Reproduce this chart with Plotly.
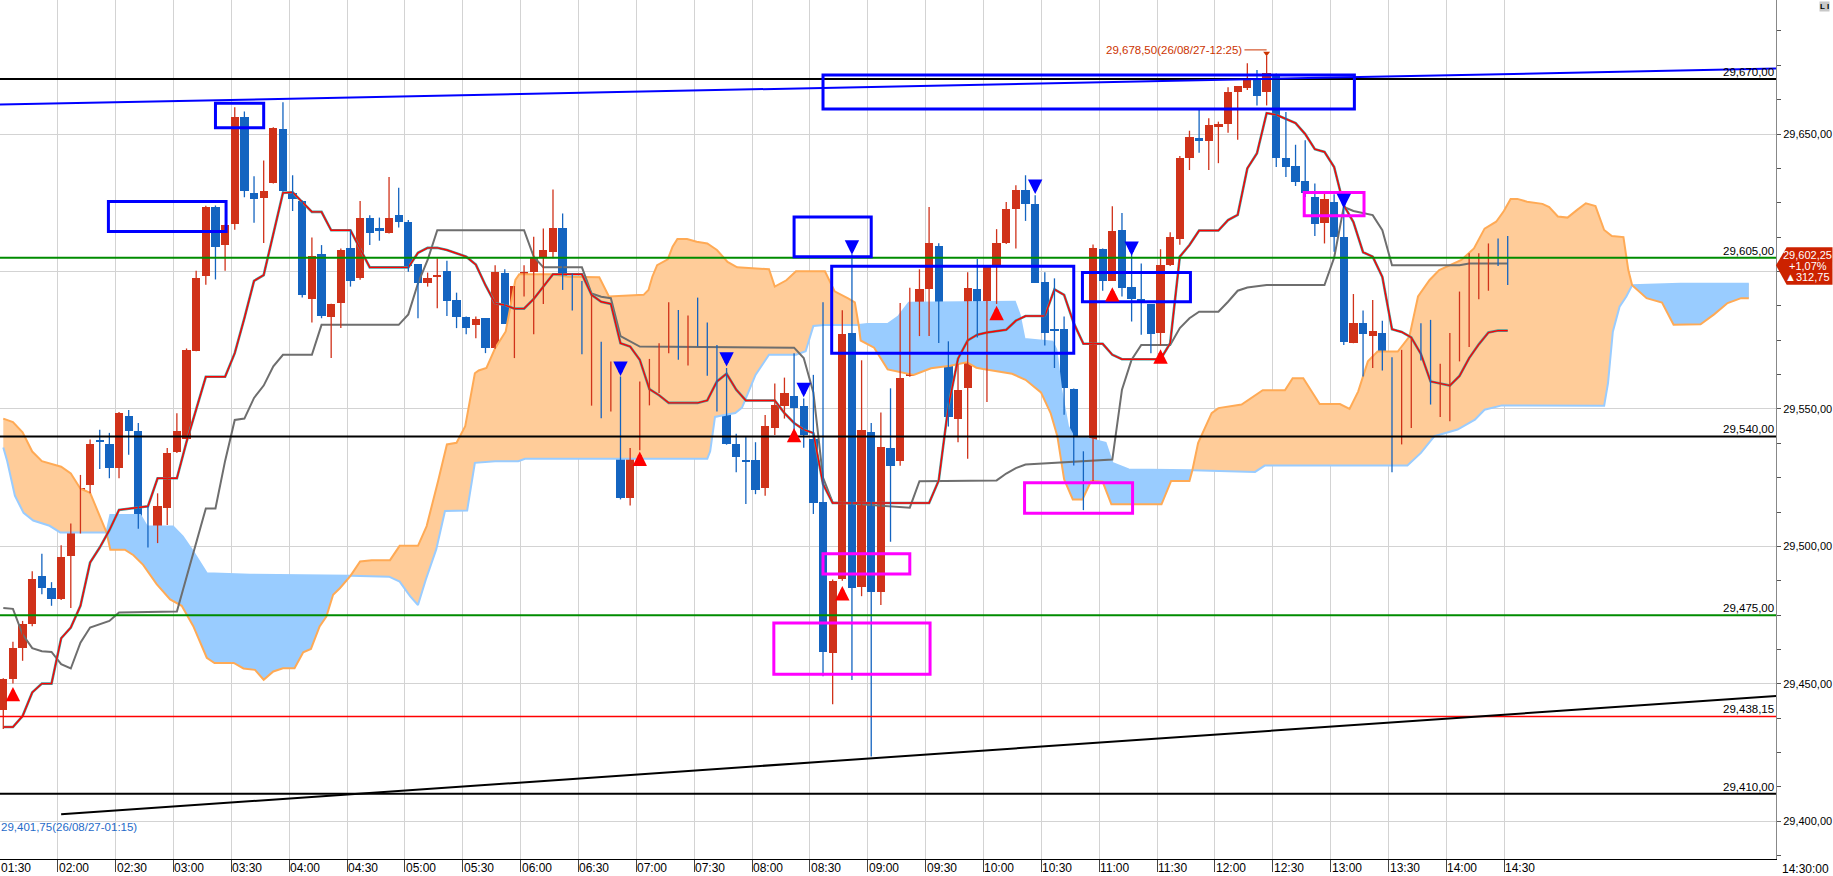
import plotly.graph_objects as go

# 5-minute bars, index 0 = 01:30 ... index 156 = 14:30
opens = [29440.6, 29451.7, 29463.1, 29471.6, 29489.4, 29484.7, 29480.8, 29496.5, 29508.3, 29522.4,
         29538.2, 29537.1, 29528.4, 29547.3, 29541.8, 29506.0, 29505.9, 29514.1, 29534.2, 29538.9,
         29571.2, 29598.4, 29623.6, 29609.7, 29617.1, 29656.1, 29628.7, 29626.8, 29632.2, 29651.9,
         29628.7, 29625.6, 29590.1, 29606.2, 29583.6, 29588.7, 29608.4, 29597.5, 29619.6, 29616.0,
         29614.1, 29620.7, 29618.1, 29602.6, 29595.7, 29597.9, 29600.2, 29589.6, 29583.6, 29580.6,
         29583.0, 29572.1, 29599.6, 29581.2, 29595.4, 29599.9, 29605.1, 29607.2, 29616.0, 29594.8,
         29592.9, 29569.9, 29571.5, 29550.6, 29561.5, 29517.5, 29535.0, 29557.2, 29564.3, 29573.6,
         29583.8, 29579.0, 29584.2, 29579.1, 29567.9, 29555.5, 29537.1, 29531.2, 29531.3, 29521.1,
         29542.9, 29550.9, 29554.7, 29550.9, 29539.2, 29516.3, 29461.1, 29488.2, 29577.6, 29485.1,
         29541.6, 29483.6, 29535.9, 29531.0, 29562.1, 29578.3, 29593.7, 29609.4, 29574.6, 29546.5,
         29557.5, 29593.5, 29579.1, 29602.3, 29610.2, 29622.9, 29629.5, 29624.7, 29596.1, 29578.6,
         29579.1, 29557.4, 29532.2, 29523.8, 29608.1, 29596.7, 29615.0, 29594.5, 29590.0, 29588.2,
         29577.8, 29602.4, 29611.7, 29641.2, 29648.4, 29647.6, 29652.7, 29653.5, 29665.2, 29666.7,
         29669.7, 29665.2, 29671.9, 29641.4, 29638.2, 29632.8, 29627.1, 29617.5, 29625.3, 29612.6,
         29573.9, 29581.4, 29576.7, 29577.6, 29568.8, 29539.1, 29549.1, 29575.5, 29572.1, 29552.2,
         29555.2, 29573.0, 29589.0, 29591.5, 29594.5, 29605.6, 29603.9]
highs = [29452.0, 29465.3, 29472.9, 29491.0, 29497.3, 29487.0, 29500.4, 29508.3, 29526.0, 29538.9,
         29542.4, 29541.3, 29548.9, 29549.6, 29544.9, 29514.6, 29519.3, 29535.8, 29548.4, 29572.0,
         29600.3, 29623.9, 29624.0, 29617.0, 29659.7, 29658.2, 29634.6, 29640.4, 29652.5, 29661.6,
         29635.0, 29625.8, 29612.4, 29609.6, 29588.3, 29608.4, 29615.0, 29625.6, 29620.5, 29619.6,
         29634.4, 29630.5, 29618.7, 29602.6, 29599.6, 29604.8, 29603.9, 29592.3, 29583.6, 29583.6,
         29583.0, 29602.3, 29600.8, 29594.7, 29602.3, 29612.6, 29615.6, 29629.8, 29621.1, 29599.3,
         29596.5, 29591.5, 29574.4, 29567.3, 29561.8, 29535.8, 29560.0, 29568.2, 29573.9, 29588.8,
         29586.0, 29584.0, 29590.5, 29581.4, 29573.3, 29564.9, 29541.0, 29539.9, 29537.9, 29547.8,
         29559.3, 29561.4, 29570.3, 29553.8, 29562.4, 29588.8, 29488.0, 29585.9, 29606.3, 29567.7,
         29544.9, 29548.7, 29557.5, 29588.5, 29594.1, 29600.8, 29623.5, 29610.3, 29574.6, 29566.3,
         29599.7, 29604.5, 29602.3, 29615.4, 29625.3, 29631.4, 29635.0, 29627.7, 29599.7, 29597.5,
         29583.6, 29557.4, 29534.6, 29609.8, 29608.4, 29623.7, 29621.3, 29608.1, 29602.9, 29588.2,
         29608.1, 29614.3, 29642.0, 29651.2, 29659.1, 29655.7, 29654.5, 29667.0, 29667.3, 29675.7,
         29673.3, 29678.5, 29672.0, 29658.0, 29646.1, 29647.7, 29632.0, 29628.9, 29628.1, 29623.5,
         29591.8, 29585.8, 29589.6, 29582.1, 29568.8, 29571.5, 29575.7, 29581.2, 29582.4, 29566.4,
         29577.6, 29592.7, 29606.6, 29606.6, 29610.2, 29612.0, 29612.9]
lows = [29433.6, 29450.1, 29458.4, 29471.0, 29482.6, 29478.4, 29480.5, 29477.6, 29504.7, 29519.3,
        29528.2, 29524.8, 29524.8, 29533.3, 29506.4, 29499.6, 29501.2, 29507.8, 29534.0, 29538.9,
        29571.0, 29595.2, 29597.1, 29600.3, 29615.2, 29627.0, 29617.7, 29610.4, 29632.0, 29629.0,
        29622.0, 29590.5, 29581.4, 29583.0, 29568.5, 29579.4, 29594.5, 29597.0, 29609.6, 29611.2,
        29613.8, 29616.0, 29599.9, 29583.0, 29594.5, 29586.6, 29583.8, 29579.4, 29577.2, 29575.7,
        29570.3, 29571.9, 29580.9, 29568.5, 29590.9, 29577.2, 29588.2, 29604.8, 29593.3, 29585.8,
        29569.9, 29551.2, 29546.6, 29549.1, 29517.1, 29514.9, 29535.0, 29551.3, 29555.8, 29570.3,
        29567.9, 29565.8, 29572.7, 29562.1, 29549.1, 29537.0, 29527.0, 29515.4, 29519.0, 29518.4,
        29540.5, 29546.5, 29541.2, 29535.9, 29511.8, 29452.8, 29442.6, 29487.5, 29451.4, 29481.9,
        29423.6, 29478.7, 29501.7, 29529.3, 29561.7, 29576.5, 29576.5, 29574.0, 29543.6, 29537.9,
        29531.9, 29576.0, 29552.5, 29588.2, 29610.0, 29608.4, 29618.4, 29595.9, 29573.1, 29564.9,
        29547.9, 29529.4, 29513.2, 29523.8, 29593.0, 29596.7, 29590.9, 29581.8, 29577.0, 29570.3,
        29573.1, 29602.0, 29609.7, 29636.9, 29643.2, 29636.9, 29639.4, 29650.5, 29647.9, 29666.0,
        29660.4, 29660.4, 29638.0, 29634.4, 29631.1, 29627.1, 29612.9, 29610.2, 29607.2, 29573.3,
        29573.9, 29561.8, 29564.9, 29564.0, 29527.0, 29537.1, 29543.1, 29567.6, 29551.6, 29547.1,
        29545.5, 29567.3, 29572.5, 29589.9, 29593.0, 29602.0, 29595.1]
closes = [29451.7, 29463.1, 29471.6, 29488.3, 29484.7, 29480.8, 29496.2, 29508.3, 29521.2, 29537.1,
          29538.0, 29528.7, 29548.4, 29541.8, 29506.7, 29506.0, 29514.6, 29533.9, 29541.8, 29571.5,
          29597.5, 29623.4, 29608.9, 29616.8, 29656.1, 29629.4, 29626.2, 29629.3, 29652.3, 29629.3,
          29626.2, 29591.5, 29605.6, 29583.8, 29588.2, 29607.8, 29596.7, 29619.3, 29614.1, 29614.8,
          29619.6, 29618.1, 29602.1, 29595.9, 29597.7, 29598.7, 29589.4, 29583.4, 29579.6, 29582.6,
          29572.1, 29599.9, 29580.9, 29594.7, 29599.9, 29604.8, 29607.8, 29616.0, 29594.2, 29592.1,
          29569.9, 29571.8, 29551.0, 29563.7, 29517.5, 29533.8, 29558.8, 29562.8, 29573.3, 29585.7,
          29578.5, 29583.8, 29579.0, 29567.9, 29557.4, 29537.1, 29532.6, 29530.8, 29520.4, 29543.8,
          29551.4, 29555.8, 29550.2, 29540.5, 29515.8, 29461.5, 29487.6, 29577.2, 29484.8, 29542.5,
          29483.6, 29536.3, 29529.3, 29561.4, 29578.9, 29593.7, 29610.3, 29574.3, 29546.9, 29556.8,
          29593.9, 29578.5, 29602.3, 29610.2, 29622.9, 29629.5, 29624.7, 29595.9, 29577.8, 29578.2,
          29557.8, 29532.5, 29523.8, 29608.6, 29596.7, 29614.7, 29593.9, 29590.0, 29588.6, 29577.2,
          29602.3, 29612.4, 29641.2, 29648.8, 29647.6, 29653.3, 29653.7, 29665.3, 29667.3, 29669.7,
          29664.0, 29672.2, 29641.4, 29638.0, 29632.6, 29628.6, 29617.1, 29626.2, 29612.6, 29574.2,
          29581.4, 29577.3, 29578.2, 29568.5, 29539.8, 29549.7, 29575.7, 29571.8, 29552.2, 29554.8,
          29572.1, 29589.6, 29592.3, 29594.5, 29606.3, 29603.2, 29602.25]

time_labels = ["01:30", "02:00", "02:30", "03:00", "03:30", "04:00", "04:30", "05:00", "05:30",
               "06:00", "06:30", "07:00", "07:30", "08:00", "08:30", "09:00", "09:30", "10:00",
               "10:30", "11:00", "11:30", "12:00", "12:30", "13:00", "13:30", "14:00", "14:30"]

# conversion line (vertices: bar, value)
tenkan_x = [0, 1, 2, 3, 4, 5, 6, 7, 8, 9, 10, 11, 12, 14, 15, 16, 18, 19, 20, 21, 23, 24, 25, 26, 27, 28,
            29, 30, 31, 32, 33, 34, 36, 37, 38, 42, 43, 44, 45, 46, 47, 48, 49, 50, 51, 52, 53, 54, 55,
            56, 57, 60, 61, 62, 63, 64, 65, 66, 67, 68, 69, 72, 73, 74, 75, 76, 77, 80, 81, 82, 83, 84,
            85, 86, 96, 97, 98, 99, 100, 101, 102, 104, 105, 106, 108, 109, 110, 111, 112, 114, 115,
            116, 120, 121, 122, 123, 124, 126, 127, 128, 129, 130, 131, 132, 133, 134, 135, 136, 137,
            138, 139, 140, 141, 142, 143, 144, 145, 146, 147, 148, 150, 151, 152, 153, 154, 155, 156]
tenkan_y = [29434.3, 29434.3, 29438.3, 29446.9, 29450.1, 29450.1, 29466.6, 29470.5, 29478.4, 29494.1,
            29499.6, 29505.9, 29513.3, 29514.1, 29514.6, 29524.8, 29524.8, 29538.0, 29550.0, 29561.7,
            29561.7, 29570.3, 29583.0, 29596.6, 29598.7, 29614.0, 29628.6, 29628.8, 29625.3, 29621.7,
            29621.7, 29615.0, 29615.0, 29608.0, 29601.5, 29601.5, 29606.8, 29608.6, 29608.6, 29607.8,
            29606.6, 29605.4, 29602.5, 29595.0, 29588.4, 29587.8, 29586.5, 29586.5, 29590.0, 29594.5,
            29599.0, 29599.0, 29591.5, 29589.0, 29588.2, 29573.9, 29572.7, 29567.9, 29557.2, 29555.0,
            29552.2, 29552.2, 29553.1, 29560.0, 29562.8, 29557.0, 29553.1, 29553.1, 29548.5, 29544.9,
            29542.5, 29541.2, 29522.7, 29515.8, 29515.8, 29524.0, 29551.0, 29568.3, 29574.9, 29577.0,
            29577.8, 29578.8, 29582.1, 29583.8, 29583.8, 29593.5, 29591.5, 29581.2, 29573.7, 29573.7,
            29569.7, 29568.1, 29568.1, 29573.9, 29605.4, 29609.6, 29614.9, 29614.9, 29618.7, 29620.6,
            29637.5, 29643.0, 29657.6, 29657.0, 29655.5, 29654.0, 29650.0, 29644.5, 29643.5, 29638.0,
            29624.1, 29618.0, 29607.0, 29605.4, 29598.0, 29579.0, 29578.0, 29576.0, 29570.0, 29560.0,
            29558.5, 29562.0, 29568.5, 29573.5, 29577.8, 29578.5, 29578.5]

# base line (vertices: bar, value)
kijun_x = [0, 1, 2, 3, 4, 5, 6, 7, 8, 9, 11, 12, 18, 19, 20, 21, 22, 23, 24, 25, 26, 27, 28, 29, 32, 33,
           41, 42, 43, 44, 45, 54, 55, 56, 60, 61, 62, 63, 64, 65, 66, 82, 83, 84, 85, 86, 94, 95, 103,
           104, 105, 106, 115, 116, 117, 118, 121, 122, 123, 124, 126, 127, 128, 129, 130, 131, 137,
           138, 139, 140, 142, 143, 144, 151, 152, 156]
kijun_y = [29477.6, 29477.3, 29468.0, 29463.0, 29461.9, 29461.6, 29457.2, 29455.6, 29465.0, 29470.5,
           29472.9, 29476.0, 29476.3, 29488.6, 29501.2, 29513.8, 29513.8, 29531.1, 29546.0, 29546.5,
           29554.0, 29558.5, 29565.5, 29569.7, 29569.7, 29580.6, 29580.6, 29584.4, 29595.7, 29604.2,
           29615.0, 29615.0, 29605.4, 29601.5, 29601.5, 29592.0, 29590.8, 29590.3, 29576.5, 29574.5,
           29572.7, 29572.3, 29568.5, 29556.0, 29525.0, 29516.0, 29514.1, 29523.7, 29524.0, 29526.5,
           29528.5, 29529.8, 29531.6, 29557.0, 29567.9, 29573.3, 29573.3, 29579.4, 29583.0, 29585.4,
           29585.4, 29589.0, 29593.0, 29594.2, 29594.7, 29595.1, 29595.1, 29605.0, 29623.5, 29622.0,
           29620.5, 29615.0, 29602.3, 29602.3, 29602.9, 29602.9]

# leading span drawn in orange
span_a_x = [0, 1, 2, 3, 4, 6, 7, 8, 9, 10, 10.7, 11.1, 12.6, 13.5, 14.5, 15.9, 17.3, 18.5, 19.7, 21.1,
            21.9, 23.9, 24.9, 26.1, 27.0, 28.0, 29.0, 30.2, 31.1, 31.9, 32.8, 33.5, 34.2, 34.9, 36.0,
            37.0, 38.2, 40.1, 41.1, 43.0, 43.9, 45.1, 46.0, 47.0, 47.9, 48.9, 49.3, 50.1, 51.0, 52.1,
            53.1, 53.5, 56.9, 58.5, 61.8, 62.8, 66.4, 66.9, 67.3, 67.8, 68.9, 69.4, 69.9, 70.9, 71.9,
            73.0, 74.0, 75.1, 76.1, 79.4, 80.0, 81.2, 82.2, 85.2, 86.2, 87.6, 88.3, 88.7, 88.9, 90.3,
            91.7, 94.4, 96.2, 98.2, 99.9, 100.9, 101.6, 104.6, 106.0, 107.6, 108.6, 109.3, 110.0,
            110.9, 111.9, 112.8, 114.0, 114.9, 120.1, 121.1, 123.0, 123.3, 123.9, 125.3, 126.0, 128.4,
            130.6, 132.9, 133.7, 134.8, 136.5, 138.6, 139.6, 140.5, 141.5, 142.5, 144.6, 145.8, 146.7,
            147.9, 148.9, 151.2, 152.5, 153.6, 154.8, 155.6, 156.3, 157.0, 158.0, 159.6, 160.3, 161.2,
            162.2, 163.2, 164.1, 165.1, 166.0, 166.8, 168.0, 168.5, 168.9, 170.4, 172.0, 173.2, 176.0,
            177.4, 178.8, 180.2, 181.0]
span_a_y = [29546.5, 29545.2, 29541.5, 29534.5, 29531.0, 29529.0, 29526.5, 29521.0, 29519.5, 29511.4,
            29505.1, 29498.8, 29498.8, 29496.8, 29493.3, 29486.3, 29480.7, 29478.4, 29471.0, 29459.5,
            29457.6, 29457.6, 29455.6, 29455.1, 29451.5, 29454.5, 29455.7, 29455.7, 29461.5, 29462.7,
            29470.9, 29474.5, 29482.4, 29484.8, 29489.3, 29494.5, 29495.0, 29495.0, 29500.2, 29500.2,
            29507.4, 29524.0, 29537.1, 29537.7, 29543.7, 29563.0, 29564.0, 29564.9, 29572.1, 29578.2,
            29596.9, 29599.0, 29599.0, 29598.1, 29597.9, 29590.9, 29591.5, 29593.3, 29598.1, 29602.3,
            29604.4, 29609.0, 29611.8, 29611.8, 29610.8, 29610.2, 29607.8, 29603.5, 29601.5, 29600.8,
            29594.5, 29596.8, 29600.1, 29600.1, 29592.8, 29590.2, 29588.8, 29580.5, 29574.9, 29572.3,
            29564.4, 29562.4, 29564.8, 29565.7, 29567.0, 29565.0, 29564.5, 29562.8, 29560.6, 29556.0,
            29548.5, 29540.1, 29524.4, 29517.1, 29517.1, 29523.8, 29523.5, 29515.3, 29515.3, 29523.8,
            29523.8, 29527.7, 29537.7, 29548.5, 29550.3, 29551.6, 29556.8, 29556.8, 29561.2, 29561.2,
            29551.8, 29551.8, 29550.0, 29556.4, 29567.3, 29570.9, 29570.9, 29576.3, 29590.9, 29596.9,
            29600.5, 29604.2, 29608.4, 29615.6, 29618.1, 29622.0, 29626.4, 29626.4, 29625.4, 29624.6,
            29623.4, 29620.0, 29619.6, 29622.4, 29624.8, 29623.8, 29615.1, 29612.9, 29612.5, 29600.6,
            29595.0, 29590.3, 29588.7, 29580.6, 29580.8, 29584.4, 29588.5, 29590.3, 29590.3]

# leading span drawn in light blue
span_b_x = [0, 0.4, 1.2, 2.1, 3.1, 4.8, 5.9, 10.7, 11.1, 14.2, 14.9, 17.6, 18.6, 19.7, 21.1, 25.6,
            36.0, 40.0, 41.1, 42.2, 43.0, 43.8, 44.9, 45.8, 48.1, 48.9, 51.0, 53.4, 54.1, 73.0, 73.3,
            73.8, 74.5, 75.9, 76.6, 78.0, 79.4, 82.2, 83.2, 84.0, 85.1, 88.7, 89.6, 91.7, 92.8, 93.9,
            104.9, 105.4, 105.9, 108.8, 109.2, 109.7, 110.4, 111.0, 112.2, 114.3, 115.0, 116.7, 123.3,
            129.8, 130.8, 145.6, 147.0, 148.4, 150.8, 152.6, 153.6, 155.4, 166.0, 166.4, 166.9, 167.6,
            168.3, 168.9, 173.9, 181.0]
span_b_y = [29536.0, 29531.1, 29518.5, 29512.2, 29509.4, 29507.5, 29505.1, 29505.1, 29511.4, 29511.4,
            29507.2, 29507.2, 29503.6, 29498.0, 29490.2, 29489.7, 29489.3, 29489.0, 29487.2, 29481.8,
            29478.7, 29487.8, 29499.0, 29512.9, 29513.1, 29530.4, 29531.0, 29531.0, 29531.9, 29531.9,
            29534.6, 29547.1, 29547.6, 29548.5, 29550.5, 29562.4, 29569.7, 29569.7, 29571.0, 29580.2,
            29580.5, 29580.5, 29580.9, 29580.9, 29583.6, 29588.6, 29589.0, 29584.2, 29575.4, 29574.5,
            29571.5, 29557.0, 29543.7, 29539.8, 29539.5, 29537.7, 29530.4, 29528.0, 29527.7, 29527.1,
            29529.4, 29529.4, 29534.0, 29540.1, 29542.5, 29546.1, 29549.7, 29551.3, 29551.2, 29559.4,
            29578.1, 29587.2, 29590.9, 29595.0, 29595.5, 29595.5]

# stretches where the blue span lies above the orange one
blue_cloud = [(10.7, 36.0), (88.7, 123.3), (168.9, 181.0)]

# horizontal levels
levels = [29670.0, 29605.0, 29540.0, 29475.0, 29438.15, 29410.0]
level_colors = ["#000000", "#008C00", "#000000", "#008C00", "#FF0000", "#000000"]

# trend lines: (bar0, price0, bar1, price1)
trend_lines = [(-0.342, 29660.7, 183.82, 29673.8, "#0000FF"),
               (6.0, 29402.6, 183.82, 29445.6, "#000000")]

# marked boxes: (bar0, bar1, price_low, price_high)
blue_boxes = [(10.9, 23.1, 29614.5, 29625.5), (22.0, 27.0, 29652.3, 29661.2),
              (82.0, 90.0, 29605.4, 29619.8), (85.9, 111.0, 29570.3, 29601.9),
              (85.0, 140.1, 29659.1, 29671.5), (111.9, 123.1, 29589.0, 29599.6)]
pink_boxes = [(134.9, 141.1, 29620.3, 29628.7), (105.9, 117.1, 29512.1, 29523.2),
              (85.0, 94.0, 29490.0, 29497.3), (79.9, 96.1, 29453.5, 29472.1)]

# signal arrows: (bar, price at arrow tip)
buy_signals = [(1, 29448.9), (66, 29534.5), (82, 29543.1), (87, 29485.6), (103, 29587.5),
               (115, 29594.3), (120, 29571.7)]
sell_signals = [(64, 29562.0), (75, 29565.4), (83, 29554.3), (88, 29606.1), (107, 29628.2),
                (117, 29605.7), (139, 29623.0)]

price_box_lines = ["29,602,25", "+1,07%", "\u25b2312,75"]
low_note = "29,401,75(26/08/27-01:15)"
high_time = "26/08/27-12:25"

UP = "#D0321A"
DOWN = "#1464C0"
Y0, Y1 = 29386.3, 29698.75
X0, X1 = -0.342, 183.82
FONT = "Liberation Sans"


def fmt(v):
    return f"{v:,.2f}".replace(".", ",")


def part(xs, ys, a, b):
    return [(x, y) for x, y in zip(xs, ys) if a - 1e-9 <= x <= b + 1e-9]


def py(p):
    return (p - Y0) / (Y1 - Y0)


def px(b):
    return max((b - X0) / (X1 - X0), 0)


fig = go.Figure()

# cloud
fig.add_trace(go.Scatter(x=span_a_x + span_b_x[::-1], y=span_a_y + span_b_y[::-1], fill="toself",
                         fillcolor="#FFCC99", line=dict(width=0), mode="lines", hoverinfo="skip"))
for a, b in blue_cloud:
    pb = part(span_b_x, span_b_y, a, b)
    pa = part(span_a_x, span_a_y, a, b)[::-1]
    fig.add_trace(go.Scatter(x=[p[0] for p in pb + pa], y=[p[1] for p in pb + pa], fill="toself",
                             fillcolor="#99CCFF", line=dict(width=0), mode="lines", hoverinfo="skip"))
fig.add_trace(go.Scatter(x=span_b_x, y=span_b_y, mode="lines", line=dict(color="#99CCFF", width=2)))
fig.add_trace(go.Scatter(x=span_a_x, y=span_a_y, mode="lines", line=dict(color="#FFAA55", width=2)))

# base / conversion lines
fig.add_trace(go.Scatter(x=kijun_x, y=kijun_y, mode="lines", line=dict(color="#6E6E6E", width=2)))
fig.add_trace(go.Scatter(x=tenkan_x, y=tenkan_y, mode="lines", line=dict(color="#4A9C9C", width=2.6)))
fig.add_trace(go.Scatter(x=tenkan_x, y=tenkan_y, mode="lines", line=dict(color="#FF0000", width=1.4)))

# candles
n = len(closes)
for rising, color in ((True, UP), (False, DOWN)):
    idx = [i for i in range(n) if (closes[i] > opens[i]) == rising]
    wx, wy = [], []
    for i in idx:
        wx += [i, i, None]
        wy += [lows[i], highs[i], None]
    fig.add_trace(go.Scatter(x=wx, y=wy, mode="lines", line=dict(color=color, width=1.3),
                             hoverinfo="skip"))
    fig.add_trace(go.Bar(x=idx, base=[min(opens[i], closes[i]) for i in idx],
                         y=[max(abs(closes[i] - opens[i]), 0.8) for i in idx],
                         width=0.86, marker=dict(color=color, line=dict(width=0))))

shapes = []
annotations = []

for lv, c in zip(levels, level_colors):
    shapes.append(dict(type="line", xref="paper", yref="y", x0=0, x1=1, y0=lv, y1=lv,
                       line=dict(color=c, width=1.5 if c == "#FF0000" else 2), layer="above"))
    annotations.append(dict(xref="paper", yref="y", x=1, y=lv, text=fmt(lv), showarrow=False,
                            xanchor="right", yanchor="bottom", xshift=-1, borderpad=0,
                            font=dict(family=FONT, size=11.5, color="black")))

for xa, ya, xb, yb, c in trend_lines:
    shapes.append(dict(type="line", xref="x", yref="y", x0=xa, y0=ya, x1=xb, y1=yb,
                       line=dict(color=c, width=2), layer="above"))

for boxes, c in ((blue_boxes, "#0000FF"), (pink_boxes, "#FF00FF")):
    for xa, xb, ya, yb in boxes:
        shapes.append(dict(type="rect", xref="x", yref="y", x0=xa, x1=xb, y0=ya, y1=yb,
                           line=dict(color=c, width=3), layer="above"))

for bx, p in buy_signals:
    annotations.append(dict(x=bx, y=p, xref="x", yref="y", text="", showarrow=True, ax=0, ay=15,
                            arrowhead=2, arrowsize=0.72, arrowwidth=4, arrowcolor="#FF0000",
                            standoff=0))
for bx, p in sell_signals:
    annotations.append(dict(x=bx, y=p, xref="x", yref="y", text="", showarrow=True, ax=0, ay=-15,
                            arrowhead=2, arrowsize=0.72, arrowwidth=4, arrowcolor="#0000FF",
                            standoff=0))

# time labels, left-aligned on their grid lines
tick_pos = [6 * j - 0.36 for j in range(len(time_labels))]
for tp, lab in zip(tick_pos, time_labels):
    annotations.append(dict(x=px(tp), y=0, xref="paper", yref="paper", text=lab, showarrow=False,
                            xanchor="left", yanchor="top", xshift=0, yshift=-1, borderpad=0,
                            font=dict(family=FONT, size=12, color="black")))

# highest price note
hi = max(highs)
hi_i = highs.index(hi)
annotations.append(dict(x=hi_i - 2.4, y=hi + 2.1, xref="x", yref="y",
                        text=f"{fmt(hi)}({high_time})", showarrow=False, xanchor="right",
                        yanchor="middle", borderpad=0, font=dict(family=FONT, size=11.5, color="#CC3300")))
shapes.append(dict(type="line", xref="x", yref="y", x0=hi_i - 2.3, x1=hi_i, y0=hi + 2.1, y1=hi + 2.1,
                   line=dict(color="#CC3300", width=1), layer="above"))
fig.add_trace(go.Scatter(x=[hi_i], y=[hi + 0.9], mode="markers",
                         marker=dict(symbol="triangle-down", size=6, color="#CC3300")))

# lowest price note (bottom left)
annotations.append(dict(x=0, y=29398.1, xref="paper", yref="y", text=low_note, showarrow=False,
                        xanchor="left", yanchor="middle", borderpad=0,
                        font=dict(family=FONT, size=11.5, color="#1F6BC9")))

# current price tag on the axis
last = closes[-1]
top, bot = last + 6.6, last - 7.1
shapes.append(dict(type="path", xref="paper", yref="paper",
                   path=f"M 1.0,{py(last)} L 1.006,{py(top)} L 1.0318,{py(top)} "
                        f"L 1.0318,{py(bot)} L 1.006,{py(bot)} Z",
                   fillcolor="#CC2200", line=dict(width=0), layer="above"))
for k, txt in enumerate(price_box_lines):
    annotations.append(dict(x=1.0178, y=py(last + 3.6 - 3.9 * k), xref="paper", yref="paper",
                            text=txt, showarrow=False, xanchor="center", yanchor="middle",
                            borderpad=0, font=dict(family=FONT, size=11, color="white")))

annotations.append(dict(x=1.0304, y=0, xref="paper", yref="paper", text="14:30:00", showarrow=False,
                        xanchor="right", yanchor="top", yshift=-2, borderpad=0,
                        font=dict(family=FONT, size=12, color="black")))
annotations.append(dict(x=1.0304, y=1, xref="paper", yref="paper", text="<b>L I</b>", showarrow=False,
                        xanchor="right", yanchor="top", yshift=-1, borderpad=0, bgcolor="#C8C8C8",
                        font=dict(family=FONT, size=8, color="black")))

ytv = [29400, 29450, 29500, 29550, 29600, 29650]
fig.update_layout(
    width=1833, height=876, autosize=False,
    margin=dict(l=0, r=57, t=0, b=17, pad=0),
    paper_bgcolor="white", plot_bgcolor="white",
    showlegend=False, barmode="overlay", bargap=0,
    shapes=shapes, annotations=annotations,
    xaxis=dict(range=[X0, X1], tickvals=tick_pos, showticklabels=False, showgrid=True,
               gridcolor="#D3D3D3", gridwidth=1, ticks="outside", ticklen=12, tickcolor="#444444",
               showline=True, linecolor="black", linewidth=1, zeroline=False),
    yaxis=dict(range=[Y0, Y1], side="right", tickvals=ytv,
               ticktext=["" if v == 29600 else fmt(v) for v in ytv],
               ticks="outside", ticklen=4, tickcolor="#555555", showgrid=True, gridcolor="#D3D3D3",
               showline=True, linecolor="#888888", linewidth=1, zeroline=False,
               minor=dict(dtick=12.5, tick0=29400, ticks="outside", ticklen=4, tickcolor="#555555",
                          showgrid=False),
               tickfont=dict(family=FONT, size=11, color="black")),
)

fig.write_html("out.html", config={"displayModeBar": False},
               post_script="document.body.style.margin='0px';document.body.style.padding='0px';"
                           "document.body.style.overflow='hidden';")
